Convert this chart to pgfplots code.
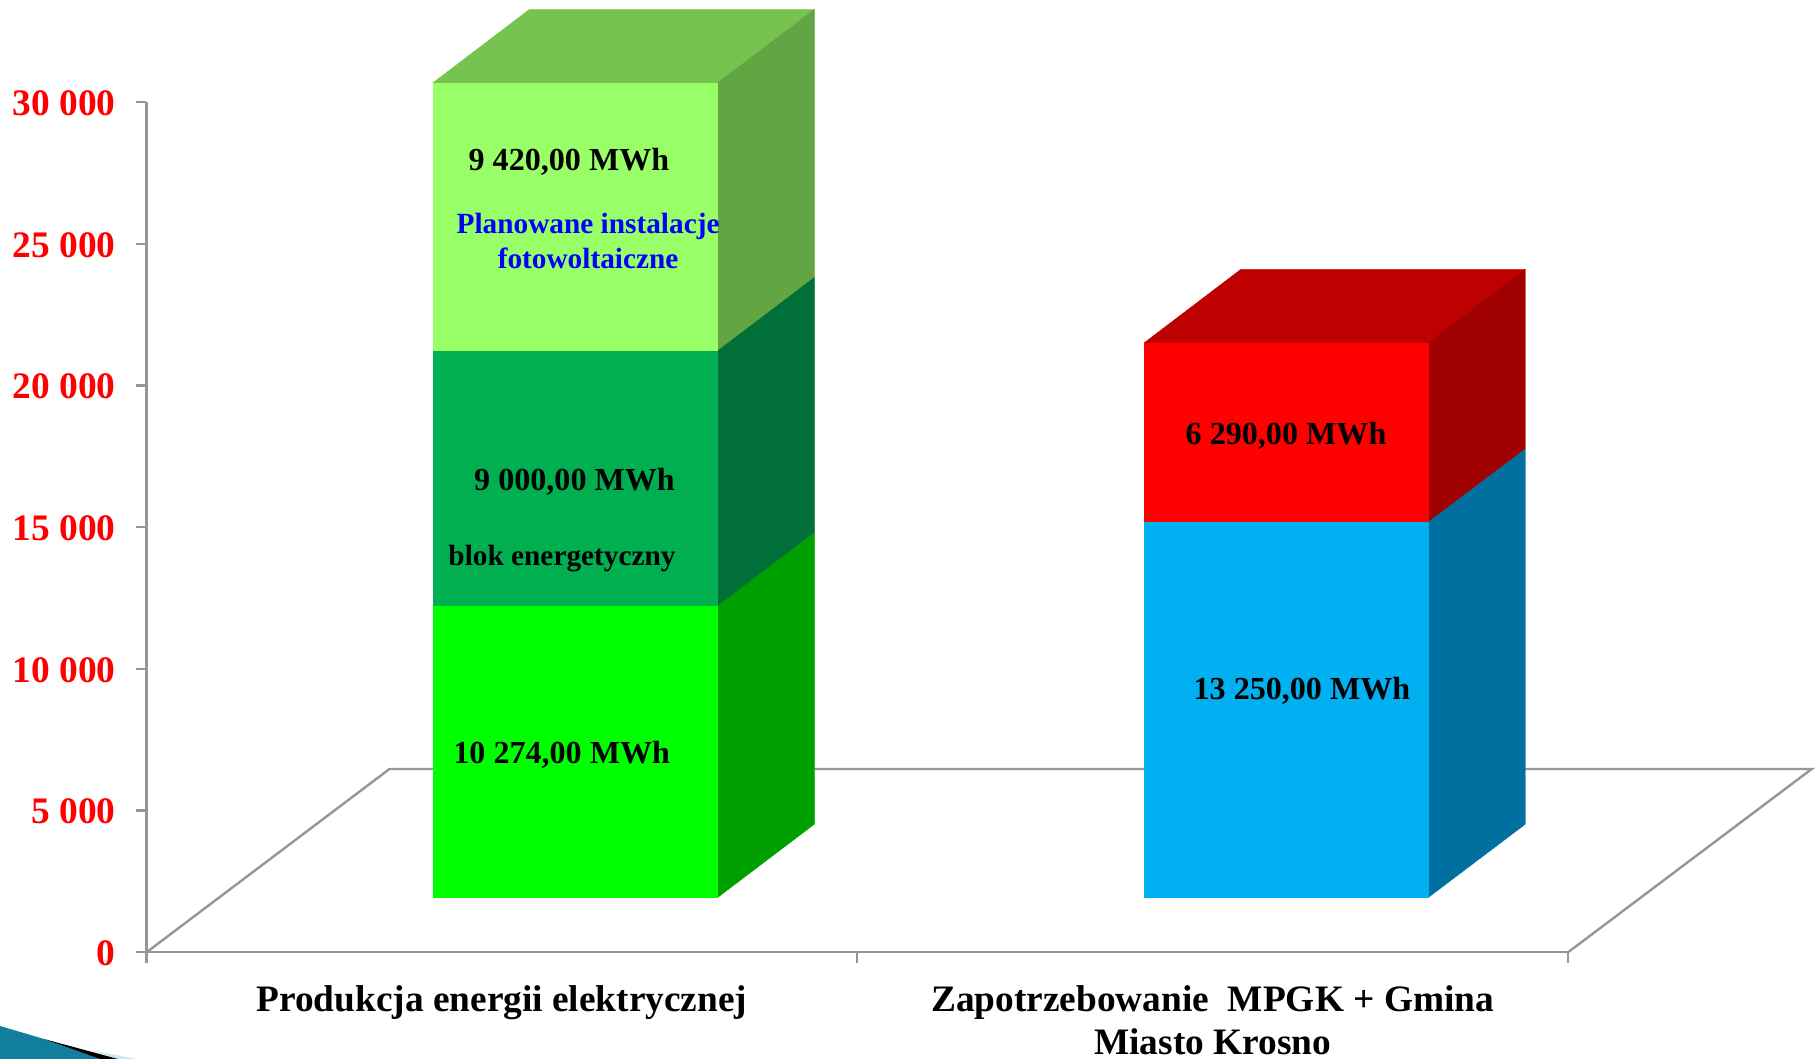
\documentclass[border=0pt]{standalone}
\usepackage{fontspec}
\setmainfont{Liberation Serif}
\usepackage{pgfplots}
\pgfplotsset{compat=1.18}

\definecolor{axisgray}{HTML}{969696}
\definecolor{limefront}{HTML}{00FF00}
\definecolor{limeside}{HTML}{00A000}
\definecolor{midfront}{HTML}{00B050}
\definecolor{midside}{HTML}{007038}
\definecolor{lightfront}{HTML}{99FF66}
\definecolor{lightside}{HTML}{63A542}
\definecolor{lighttop}{HTML}{76C350}
\definecolor{bluefront}{HTML}{00B0F0}
\definecolor{blueside}{HTML}{0070A0}
\definecolor{redfront}{HTML}{FF0000}
\definecolor{redside}{HTML}{A00000}
\definecolor{redtop}{HTML}{BE0000}
\definecolor{wedge}{HTML}{117E9E}
\definecolor{wedgelight}{HTML}{CFE8F2}

% one filled face of a 3d block
\newcommand{\face}[2]{\addplot[fill=#1,draw=#1,line width=0.2pt,forget plot] coordinates {#2} -- cycle;}
\newcommand{\lab}[2]{\fontsize{#1}{#1}\selectfont\bfseries #2}

\begin{document}
\begin{tikzpicture}
\useasboundingbox (0,0) rectangle (908pt,529.5pt);

% corner of the slide design
\fill[wedgelight] (45pt,4.5pt) -- (68.5pt,0pt) -- (59pt,0pt) -- cycle;
\fill[wedge] (0,16.5pt) -- (22pt,10pt) -- (50pt,0pt) -- (0,0) -- cycle;
\fill[black] (22pt,10pt) -- (59pt,0pt) -- (50pt,0pt) -- cycle;

\begin{axis}[
    at={(73.25pt,53.35pt)},
    anchor=south west,
    scale only axis,
    width=710.75pt,
    height=425pt,
    xmin=0, xmax=2,
    ymin=0, ymax=30000,
    clip=false,
    axis lines=left,
    axis line style={-,axisgray,line width=1.2pt},
    tick style={axisgray,line width=1.2pt},
    tick align=outside,
    major tick length=5.5pt,
    minor tick length=5.5pt,
    scaled y ticks=false,
    ytick={0,5000,10000,15000,20000,25000,30000},
    yticklabels={0,5 000,10 000,15 000,20 000,25 000,30 000},
    yticklabel style={red,inner sep=0pt,anchor=east,xshift=-9.8pt,yshift=-0.5pt,font=\fontsize{18.7}{18.7}\selectfont\bfseries},
    xtick={0.5,1.5},
    minor xtick={0,1,2},
    major x tick style={draw=none,/pgfplots/major tick length=0pt},
    xticklabels={Produkcja energii elektrycznej,{Zapotrzebowanie~ MPGK + Gmina\\Miasto Krosno}},
    xticklabel style={align=center,inner sep=0pt,anchor=north,yshift=-10.8pt,font=\fontsize{18.67}{21.5}\selectfont\bfseries},
]
% floor
\addplot[axisgray,line width=1.2pt,forget plot] coordinates {(0,0) (0.3419,6470) (2.3429,6470) (2,0)};

% left block
\face{lighttop}{(0.4027,30681) (0.5386,33275) (0.9396,33275) (0.8031,30681)}
\face{limeside}{(0.8031,1927) (0.9396,4521) (0.9396,14827) (0.8031,12233)}
\face{midside}{(0.8031,12233) (0.9396,14827) (0.9396,23841) (0.8031,21247)}
\face{lightside}{(0.8031,21247) (0.9396,23841) (0.9396,33275) (0.8031,30681)}
\face{limefront}{(0.4027,1927) (0.8031,1927) (0.8031,12233) (0.4027,12233)}
\face{midfront}{(0.4027,12233) (0.8031,12233) (0.8031,21247) (0.4027,21247)}
\face{lightfront}{(0.4027,21247) (0.8031,21247) (0.8031,30681) (0.4027,30681)}

% right block
\face{redtop}{(1.4034,21505) (1.5395,24099) (1.9399,24099) (1.8030,21505)}
\face{blueside}{(1.8030,1927) (1.9399,4521) (1.9399,17792) (1.8030,15198)}
\face{redside}{(1.8030,15198) (1.9399,17792) (1.9399,24099) (1.8030,21505)}
\face{bluefront}{(1.4034,1927) (1.8030,1927) (1.8030,15198) (1.4034,15198)}
\face{redfront}{(1.4034,15198) (1.8030,15198) (1.8030,21505) (1.4034,21505)}

% value labels
\node[anchor=base,inner sep=0pt] at (axis cs:0.5944,27600) {\lab{16.05}{9 420,00 MWh}};
\node[anchor=base,inner sep=0pt,blue] at (axis cs:0.6213,25376) {\lab{14.65}{Planowane instalacje}};
\node[anchor=base,inner sep=0pt,blue] at (axis cs:0.6213,24141) {\lab{14.65}{fotowoltaiczne}};
\node[anchor=base,inner sep=0pt] at (axis cs:0.6022,16281) {\lab{16.05}{9 000,00 MWh}};
\node[anchor=base,inner sep=0pt] at (axis cs:0.5846,13634) {\lab{14.65}{blok energetyczny}};
\node[anchor=base,inner sep=0pt] at (axis cs:0.5842,6651) {\lab{16.05}{10 274,00 MWh}};
\node[anchor=base,inner sep=0pt] at (axis cs:1.6033,17930) {\lab{16.05}{6 290,00 MWh}};
\node[anchor=base,inner sep=0pt] at (axis cs:1.6257,8922) {\lab{16.05}{13 250,00 MWh}};
\end{axis}
\end{tikzpicture}
\end{document}
